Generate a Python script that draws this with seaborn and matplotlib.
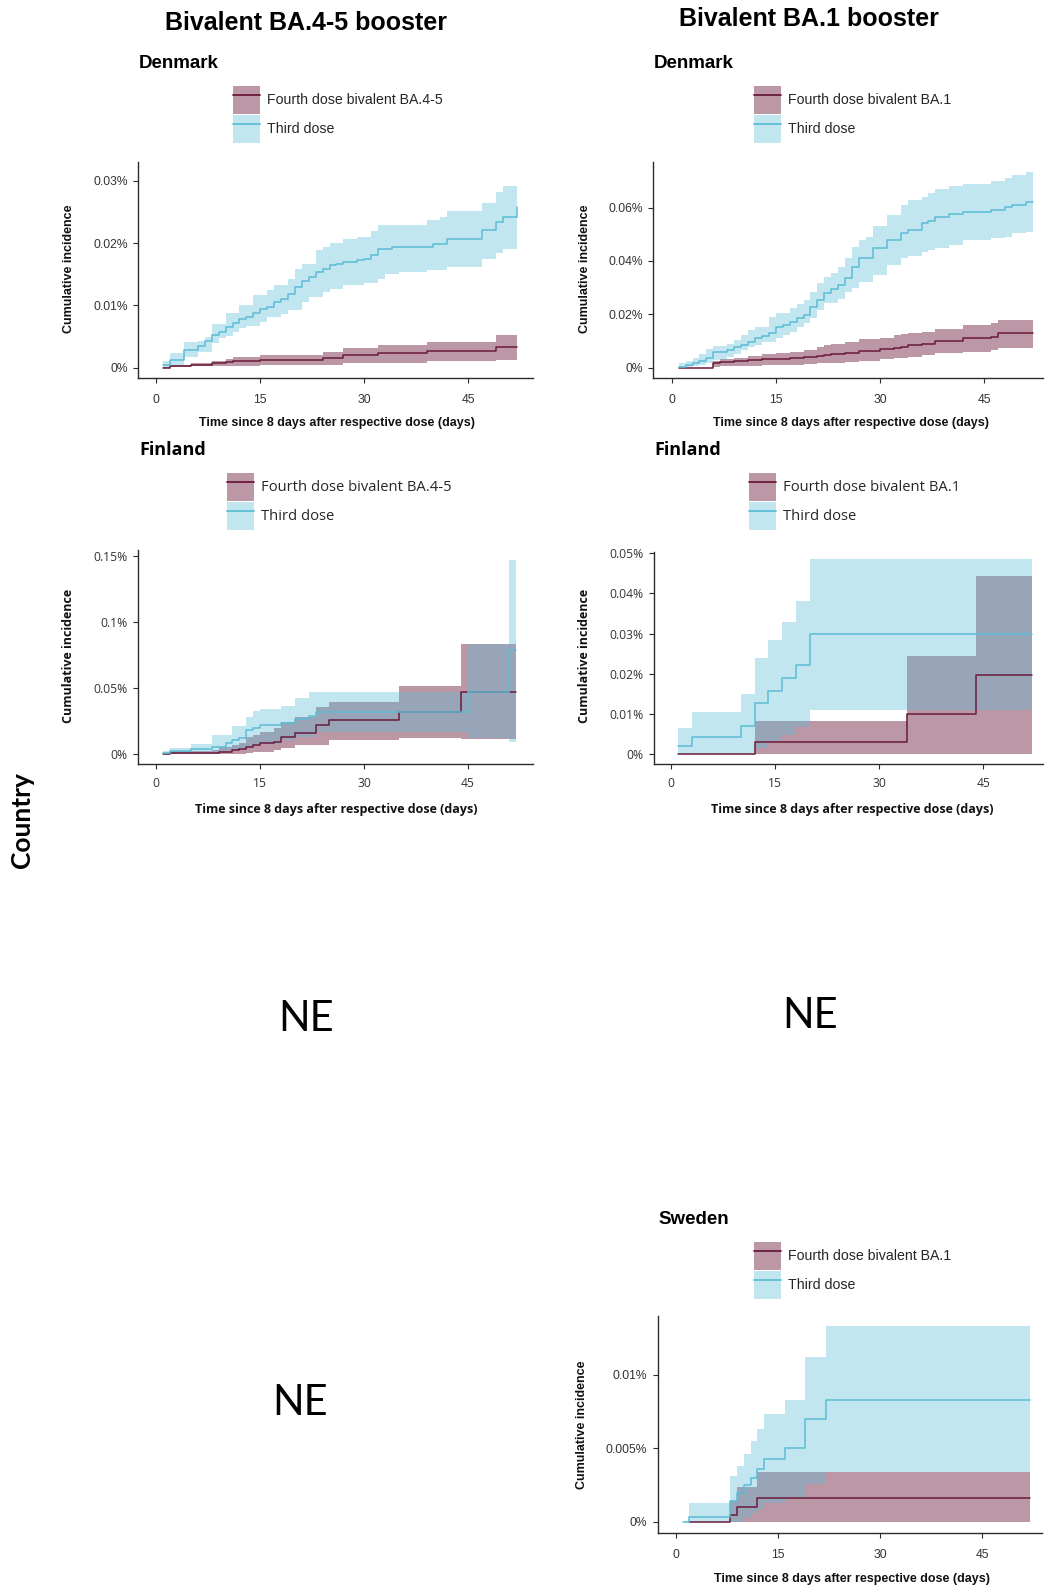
import matplotlib
matplotlib.use("Agg")
import matplotlib.pyplot as plt
import seaborn as sns
from matplotlib.patches import Patch
from matplotlib.lines import Line2D
from matplotlib.legend_handler import HandlerTuple

# ---- data (cumulative incidence in %, step functions by day) ----
dk45_third_days = [1, 2, 4, 6, 7, 8, 9, 10, 11, 12, 13, 14, 15, 16, 17, 18, 19, 20, 21, 22,
                   23, 24, 25, 26, 27, 29, 30, 31, 32, 33, 34, 35, 39, 40, 41, 42, 47, 49, 50, 52]
dk45_third_est = [0.0005, 0.0013, 0.0028, 0.0035, 0.0043, 0.0052, 0.0058, 0.0066, 0.0072, 0.0078,
                  0.0082, 0.0088, 0.0094, 0.0097, 0.0106, 0.0110, 0.0118, 0.0130, 0.0139, 0.0146,
                  0.0154, 0.0159, 0.0165, 0.0167, 0.0170, 0.0173, 0.0175, 0.0181, 0.0190, 0.0190,
                  0.0193, 0.0193, 0.0194, 0.0198, 0.0198, 0.0207, 0.0221, 0.0234, 0.0241, 0.0258]
dk45_third_lo = [0.0001, 0.0004, 0.0018, 0.0026, 0.0026, 0.0039, 0.0047, 0.0051, 0.0058, 0.0063,
                 0.0067, 0.0067, 0.0074, 0.0081, 0.0081, 0.0086, 0.0093, 0.0093, 0.0106, 0.0114,
                 0.0114, 0.0122, 0.0127, 0.0127, 0.0133, 0.0133, 0.0136, 0.0136, 0.0143, 0.0150,
                 0.0150, 0.0154, 0.0157, 0.0157, 0.0157, 0.0162, 0.0175, 0.0184, 0.0190, 0.0190]
dk45_third_hi = [0.0011, 0.0023, 0.0041, 0.0043, 0.0050, 0.0070, 0.0070, 0.0087, 0.0087, 0.0100,
                 0.0100, 0.0116, 0.0116, 0.0124, 0.0133, 0.0133, 0.0143, 0.0159, 0.0167, 0.0167,
                 0.0189, 0.0193, 0.0200, 0.0200, 0.0206, 0.0209, 0.0209, 0.0220, 0.0229, 0.0229,
                 0.0229, 0.0229, 0.0237, 0.0237, 0.0242, 0.0251, 0.0265, 0.0282, 0.0292, 0.0292]

dk45_fourth_days = [1, 2, 5, 8, 10, 11, 15, 24, 27, 32, 39, 49, 52]
dk45_fourth_est = [0.0, 0.0003, 0.0005, 0.0007, 0.0009, 0.0011, 0.0012, 0.0015, 0.0020, 0.0023, 0.0027, 0.0034, 0.0034]
dk45_fourth_lo = [0.0, 0.0001, 0.0002, 0.0002, 0.0003, 0.0003, 0.0004, 0.0004, 0.0007, 0.0008, 0.0010, 0.0012, 0.0012]
dk45_fourth_hi = [0.0001, 0.0005, 0.0008, 0.0011, 0.0014, 0.0018, 0.0020, 0.0025, 0.0032, 0.0036, 0.0042, 0.0052, 0.0052]

dk1_third_days = [1, 2, 3, 4, 5, 6, 8, 9, 10, 11, 12, 13, 14, 15, 16, 17, 18, 19, 20, 21, 22,
                  23, 24, 25, 26, 27, 28, 29, 31, 33, 34, 36, 37, 38, 40, 42, 46, 48, 49, 51, 52]
dk1_third_est = [0.0004, 0.0010, 0.0016, 0.0026, 0.0037, 0.0060, 0.0066, 0.0076, 0.0085, 0.0097,
                 0.0110, 0.0119, 0.0131, 0.0154, 0.0160, 0.0172, 0.0185, 0.0198, 0.0229, 0.0254,
                 0.0279, 0.0294, 0.0310, 0.0335, 0.0379, 0.0410, 0.0410, 0.0448, 0.0479, 0.0504,
                 0.0516, 0.0541, 0.0551, 0.0566, 0.0576, 0.0585, 0.0591, 0.0601, 0.0610, 0.0622, 0.0622]
dk1_third_lo = [0.0000, 0.0004, 0.0006, 0.0010, 0.0016, 0.0029, 0.0039, 0.0050, 0.0066, 0.0079,
                0.0085, 0.0097, 0.0097, 0.0110, 0.0122, 0.0135, 0.0154, 0.0169, 0.0185, 0.0216,
                0.0241, 0.0241, 0.0256, 0.0285, 0.0297, 0.0322, 0.0322, 0.0347, 0.0385, 0.0410,
                0.0419, 0.0435, 0.0440, 0.0448, 0.0460, 0.0479, 0.0485, 0.0489, 0.0504, 0.0510, 0.0510]
dk1_third_hi = [0.0016, 0.0025, 0.0035, 0.0050, 0.0069, 0.0081, 0.0090, 0.0104, 0.0122, 0.0140,
                0.0154, 0.0154, 0.0191, 0.0204, 0.0204, 0.0222, 0.0238, 0.0254, 0.0285, 0.0316,
                0.0340, 0.0354, 0.0379, 0.0410, 0.0454, 0.0480, 0.0490, 0.0530, 0.0572, 0.0610,
                0.0629, 0.0641, 0.0655, 0.0669, 0.0681, 0.0690, 0.0698, 0.0710, 0.0722, 0.0735, 0.0735]

dk1_fourth_days = [1, 6, 7, 9, 11, 13, 15, 17, 19, 21, 22, 23, 25, 27, 30, 32, 33, 34, 36, 38, 42, 46, 47, 52]
dk1_fourth_est = [0.0, 0.0016, 0.0023, 0.0026, 0.0029, 0.0031, 0.0033, 0.0035, 0.0040, 0.0045, 0.0048, 0.0051,
                  0.0056, 0.0063, 0.0069, 0.0074, 0.0079, 0.0085, 0.0090, 0.0100, 0.0110, 0.0116, 0.0129, 0.0129]
dk1_fourth_lo = [0.0, 0.0004, 0.0006, 0.0007, 0.0008, 0.0009, 0.0009, 0.0010, 0.0012, 0.0016, 0.0017, 0.0019,
                 0.0023, 0.0026, 0.0031, 0.0035, 0.0038, 0.0041, 0.0046, 0.0054, 0.0060, 0.0066, 0.0075, 0.0075]
dk1_fourth_hi = [0.0, 0.0025, 0.0033, 0.0038, 0.0042, 0.0051, 0.0055, 0.0060, 0.0068, 0.0079, 0.0085, 0.0090,
                 0.0098, 0.0106, 0.0112, 0.0122, 0.0125, 0.0129, 0.0135, 0.0145, 0.0160, 0.0169, 0.0179, 0.0179]

fi45_third_days = [1, 2, 5, 8, 10, 11, 12, 13, 14, 15, 18, 20, 22, 23, 35, 44, 45, 51, 52]
fi45_third_est = [0.0008, 0.0025, 0.0040, 0.0055, 0.0080, 0.0106, 0.0119, 0.0180, 0.0200, 0.0220,
                  0.0237, 0.0265, 0.0290, 0.0320, 0.0320, 0.0320, 0.0470, 0.0787, 0.0787]
fi45_third_lo = [0.0, 0.0002, 0.0005, 0.0008, 0.0020, 0.0030, 0.0035, 0.0050, 0.0060, 0.0076,
                 0.0106, 0.0130, 0.0130, 0.0164, 0.0164, 0.0164, 0.0119, 0.0093, 0.0093]
fi45_third_hi = [0.0025, 0.0043, 0.0075, 0.0144, 0.0144, 0.0212, 0.0212, 0.0282, 0.0328, 0.0338,
                 0.0366, 0.0421, 0.0467, 0.0467, 0.0467, 0.0467, 0.0830, 0.1470, 0.1470]

fi45_fourth_days = [1, 2, 8, 9, 11, 12, 13, 14, 15, 17, 18, 20, 23, 25, 35, 44, 52]
fi45_fourth_est = [0.0, 0.0008, 0.0008, 0.0013, 0.0030, 0.0040, 0.0055, 0.0068, 0.0080, 0.0093,
                   0.0130, 0.0161, 0.0220, 0.0257, 0.0320, 0.0470, 0.0470]
fi45_fourth_lo = [0.0, 0.0, 0.0, 0.0, 0.0, 0.0003, 0.0010, 0.0017, 0.0017, 0.0030,
                  0.0043, 0.0068, 0.0068, 0.0106, 0.0119, 0.0113, 0.0113]
fi45_fourth_hi = [0.0005, 0.0020, 0.0030, 0.0050, 0.0068, 0.0085, 0.0130, 0.0145, 0.0169, 0.0200,
                  0.0245, 0.0277, 0.0358, 0.0396, 0.0514, 0.0830, 0.0830]

fi1_third_days = [1, 3, 10, 12, 14, 16, 18, 20, 52]
fi1_third_est = [0.0021, 0.0043, 0.0070, 0.0126, 0.0157, 0.0189, 0.0222, 0.0298, 0.0298]
fi1_third_lo = [0.0, 0.0, 0.0, 0.0014, 0.0029, 0.0047, 0.0068, 0.0110, 0.0110]
fi1_third_hi = [0.0064, 0.0104, 0.0150, 0.0238, 0.0284, 0.0330, 0.0380, 0.0486, 0.0486]

fi1_fourth_days = [1, 12, 34, 44, 52]
fi1_fourth_est = [0.0, 0.0029, 0.0100, 0.0198, 0.0198]
fi1_fourth_lo = [0.0, 0.0, 0.0, 0.0, 0.0]
fi1_fourth_hi = [0.0, 0.0082, 0.0245, 0.0444, 0.0444]

se1_third_days = [1, 2, 8, 9, 10, 11, 12, 13, 16, 19, 22, 52]
se1_third_est = [0.0, 0.00036, 0.00145, 0.0020, 0.0025, 0.0030, 0.0036, 0.0043, 0.0050, 0.0070, 0.0083, 0.0083]
se1_third_lo = [0.0, 0.0, 0.0, 0.0, 0.0003, 0.0006, 0.0009, 0.0013, 0.0016, 0.0026, 0.0034, 0.0034]
se1_third_hi = [0.0, 0.00127, 0.0031, 0.0038, 0.0046, 0.0055, 0.0063, 0.0073, 0.0083, 0.0112, 0.0133, 0.0133]

se1_fourth_days = [2, 8, 9, 10, 11, 12, 52]
se1_fourth_est = [0.0, 0.0005, 0.0010, 0.0010, 0.0010, 0.0016, 0.0016]
se1_fourth_lo = [0.0, 0.0, 0.0, 0.0, 0.0, 0.0, 0.0]
se1_fourth_hi = [0.0, 0.00145, 0.0024, 0.0024, 0.0024, 0.0034, 0.0034]

x_ticks = [0, 15, 30, 45]
dk45_yticks = [0, 0.01, 0.02, 0.03]
dk45_ylabels = ['0%', '0.01%', '0.02%', '0.03%']
dk1_yticks = [0, 0.02, 0.04, 0.06]
dk1_ylabels = ['0%', '0.02%', '0.04%', '0.06%']
fi45_yticks = [0, 0.05, 0.1, 0.15]
fi45_ylabels = ['0%', '0.05%', '0.1%', '0.15%']
fi1_yticks = [0, 0.01, 0.02, 0.03, 0.04, 0.05]
fi1_ylabels = ['0%', '0.01%', '0.02%', '0.03%', '0.04%', '0.05%']
se1_yticks = [0, 0.005, 0.01]
se1_ylabels = ['0%', '0.005%', '0.01%']

label_45 = 'Fourth dose bivalent BA.4-5'
label_1 = 'Fourth dose bivalent BA.1'
label_third = 'Third dose'
xlab = 'Time since 8 days after respective dose (days)'
ylab = 'Cumulative incidence'

MAROON = '#6b1a3a'
BLUE = '#5bbcd6'
A_MAROON = 0.45
A_BLUE = 0.37

W, H = 1045, 1587
sns.set_style('ticks')
plt.rcParams['font.family'] = ['Liberation Sans', 'DejaVu Sans']

fig = plt.figure(figsize=(W / 100, H / 100), dpi=100)


def fx(x):
    return x / W


def fy(y):
    return 1 - y / H


def panel(rect, fourth, third, xlim, ylim, yticks, ylabels, family, ylab_xy, xlab_xy, xpad):
    left, top, right, bottom = rect
    ax = fig.add_axes([fx(left), fy(bottom), (right - left) / W, (bottom - top) / H])
    d4, e4, l4, h4 = fourth
    d3, e3, l3, h3 = third
    ax.fill_between(d4, l4, h4, step='post', color=MAROON, alpha=A_MAROON, lw=0)
    ax.fill_between(d3, l3, h3, step='post', color=BLUE, alpha=A_BLUE, lw=0)
    sns.lineplot(x=d4, y=e4, ax=ax, color=MAROON, lw=1.1, drawstyle='steps-post',
                 estimator=None, sort=False)
    sns.lineplot(x=d3, y=e3, ax=ax, color=BLUE, lw=1.1, drawstyle='steps-post',
                 estimator=None, sort=False)
    ax.set_xlim(*xlim)
    ax.set_ylim(*ylim)
    ax.set_xticks(x_ticks)
    ax.set_xticklabels([str(t) for t in x_ticks], family=family)
    ax.set_yticks(yticks)
    ax.set_yticklabels(ylabels, family=family)
    ax.set_xlabel('')
    ax.set_ylabel('')
    sns.despine(ax=ax)
    for s in ['left', 'bottom']:
        ax.spines[s].set_color('#2b2b2b')
        ax.spines[s].set_linewidth(1.0)
    ax.tick_params(length=3.5, width=0.8, color='#2b2b2b', labelsize=8.7, labelcolor='#333333')
    ax.tick_params(axis='x', pad=xpad)
    ax.tick_params(axis='y', pad=4)
    ax.grid(False)
    fig.text(fx(ylab_xy[0]), fy(ylab_xy[1]), ylab, rotation=90, ha='center', va='center',
             fontsize=9, fontweight='bold', family=family, color='#111111')
    fig.text(fx(xlab_xy[0]), fy(xlab_xy[1]), xlab, ha='center', va='center',
             fontsize=9, fontweight='bold', family=family, color='#111111')
    return ax


def legend(x, y, fourth_label, family, size):
    handles = [(Patch(facecolor=MAROON, alpha=A_MAROON, lw=0), Line2D([], [], color=MAROON, lw=1.3)),
               (Patch(facecolor=BLUE, alpha=A_BLUE, lw=0), Line2D([], [], color=BLUE, lw=1.3))]
    # handle box height = size*(0.65*h + 0.245) -> about 28 px
    hh = (28 / (size * 100 / 72) - 0.245) / 0.65
    fig.legend(handles, [fourth_label, label_third], loc='upper left',
               bbox_to_anchor=(fx(x), fy(y)), bbox_transform=fig.transFigure,
               handler_map={tuple: HandlerTuple(ndivide=1, pad=0)},
               frameon=False, borderpad=0, borderaxespad=0,
               handlelength=27 / (size * 100 / 72),
               handleheight=hh, handletextpad=0.5, labelspacing=0.05,
               prop={'family': family, 'size': size})


# Denmark, BA.4-5
panel((138.3, 162, 533, 377.7),
      (dk45_fourth_days, dk45_fourth_est, dk45_fourth_lo, dk45_fourth_hi),
      (dk45_third_days, dk45_third_est, dk45_third_lo, dk45_third_hi),
      (-2.6, 54.36), (-0.0016, 0.0330), dk45_yticks, dk45_ylabels, 'Liberation Sans',
      (69, 269), (337, 423), 8)
# Denmark, BA.1
panel((653.3, 162, 1043, 377.7),
      (dk1_fourth_days, dk1_fourth_est, dk1_fourth_lo, dk1_fourth_hi),
      (dk1_third_days, dk1_third_est, dk1_third_lo, dk1_third_hi),
      (-2.65, 53.5), (-0.00375, 0.0771), dk1_yticks, dk1_ylabels, 'Liberation Sans',
      (585, 269), (851, 423), 8)
# Finland, BA.4-5
panel((138.3, 550, 533, 764),
      (fi45_fourth_days, fi45_fourth_est, fi45_fourth_lo, fi45_fourth_hi),
      (fi45_third_days, fi45_third_est, fi45_third_lo, fi45_third_hi),
      (-2.6, 54.4), (-0.0076, 0.1543), fi45_yticks, fi45_ylabels, 'Open Sans',
      (69, 656), (336, 809), 6)
# Finland, BA.1
panel((654, 551.7, 1043, 764),
      (fi1_fourth_days, fi1_fourth_est, fi1_fourth_lo, fi1_fourth_hi),
      (fi1_third_days, fi1_third_est, fi1_third_lo, fi1_third_hi),
      (-2.5, 53.6), (-0.0025, 0.0504), fi1_yticks, fi1_ylabels, 'Open Sans',
      (584, 656), (852, 809), 6)
# Sweden, BA.1
panel((657.7, 1316, 1041.7, 1532.7),
      (se1_fourth_days, se1_fourth_est, se1_fourth_lo, se1_fourth_hi),
      (se1_third_days, se1_third_est, se1_third_lo, se1_third_hi),
      (-2.64, 53.7), (-0.00073, 0.01399), se1_yticks, se1_ylabels, 'Liberation Sans',
      (582, 1425), (852, 1579), 8)

legend(233, 86, label_45, 'Liberation Sans', 10.2)
legend(754, 86, label_1, 'Liberation Sans', 10.2)
legend(227, 473, label_45, 'Open Sans', 10.6)
legend(749, 473, label_1, 'Open Sans', 10.6)
legend(754, 1242, label_1, 'Liberation Sans', 10.2)

# titles and labels
fig.text(fx(306), fy(23), 'Bivalent BA.4-5 booster', ha='center', va='center',
         fontsize=18, fontweight='bold', color='black')
fig.text(fx(809), fy(19), 'Bivalent BA.1 booster', ha='center', va='center',
         fontsize=18, fontweight='bold', color='black')
for x, y, name, fam in [(139, 63, 'Denmark', 'Liberation Sans'), (654, 63, 'Denmark', 'Liberation Sans'),
                        (139, 450, 'Finland', 'Open Sans'), (654, 450, 'Finland', 'Open Sans'),
                        (658, 1219, 'Sweden', 'Liberation Sans')]:
    fig.text(fx(x), fy(y), name, ha='left', va='center', fontsize=13.5 if fam != 'Open Sans' else 13,
             fontweight='bold', family=fam, color='black')

fig.text(fx(22), fy(820), 'Country', rotation=90, ha='center', va='center',
         fontsize=19, fontweight='bold', family='Lato', color='black')
for x, y in [(306, 1019), (810, 1016), (300, 1403)]:
    fig.text(fx(x), fy(y), 'NE', ha='center', va='center', fontsize=30, family='Lato', color='black')

fig.savefig('out.png', dpi=100, facecolor='white')
